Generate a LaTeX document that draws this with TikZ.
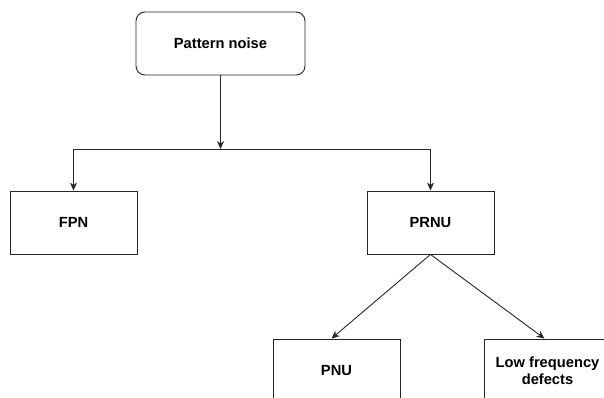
\documentclass[tikz,border=0pt]{standalone}
\usepackage{fontspec}
\setmainfont{Liberation Sans}
\usetikzlibrary{arrows.meta}
\begin{document}
\begin{tikzpicture}[x=1pt,y=-1pt,
  box/.style={draw=black!85,line width=0.9pt,fill=white,minimum width=127pt,minimum height=63pt,
    font=\fontsize{14.7}{17}\selectfont\bfseries,align=center,inner sep=2pt},
  rbox/.style={box,rounded corners=9pt,minimum width=169pt},
  arr/.style={draw=black!85,line width=0.9pt,-{Stealth[length=8pt,width=7pt,inset=2.5pt]}}]
\useasboundingbox (0,0) rectangle (604,398);
\clip (0,0) rectangle (604,398);
% boxes
\node[rbox] (pn) at (220.5,43.5) {Pattern noise};
\node[box] (fpn) at (73.5,222.5) {FPN};
\node[box] (prnu) at (430.5,222.5) {PRNU};
\node[box] (pnu) at (336.5,370.5) {PNU};
\node[box] (lf) at (547.5,370.5) {Low frequency\\defects};
% junction on the bus line
\coordinate (j) at (pn.south |- 0,149);
% connectors
\draw[arr] (pn.south) -- (j);
\draw[arr] (j) -| (fpn.north);
\draw[arr] (j) -| (prnu.north);
\draw[arr] (prnu.south) -- ([xshift=-5pt]pnu.north);
\draw[arr] (prnu.south) -- ([xshift=-3pt]lf.north);
\end{tikzpicture}
\end{document}
